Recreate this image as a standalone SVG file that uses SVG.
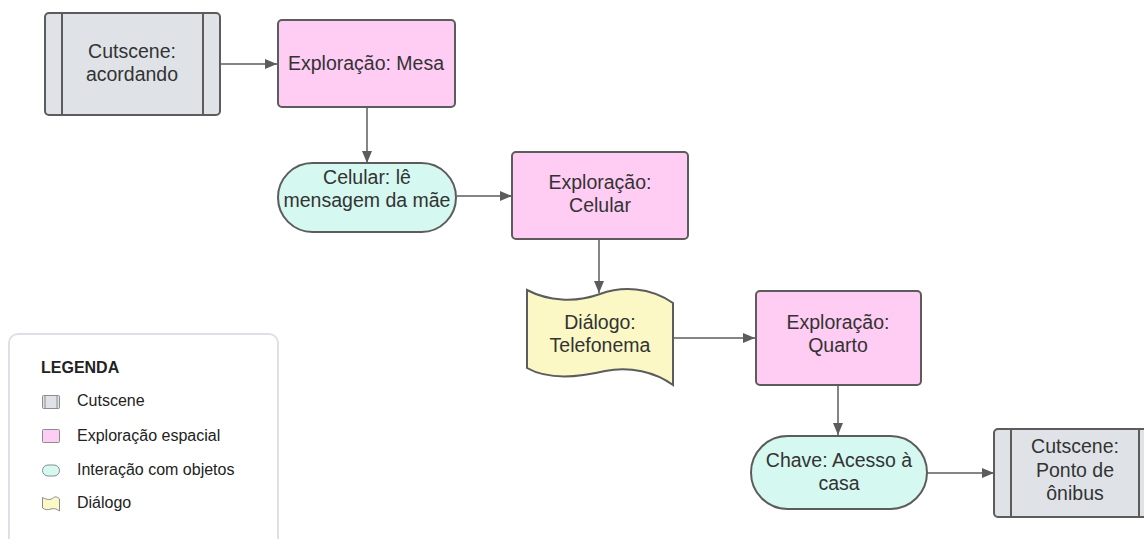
<svg xmlns="http://www.w3.org/2000/svg" width="1144" height="539" viewBox="0 0 1144 539">
<style>
.n{stroke:#5c5c5c;stroke-width:2}
.cut{fill:#dfe3e8}
.exp{fill:#ffccf3}
.int{fill:#d5f8f1}
.dia{fill:#fbf8c6}
.t{font-family:"Liberation Sans",Arial,sans-serif;font-size:19.5px;fill:#333333;text-anchor:middle}
.c{stroke:#5c5c5c;stroke-width:1.5;fill:none;marker-end:url(#ah)}
.lt{font-family:"Liberation Sans",Arial,sans-serif;font-size:16px;fill:#222222}
.li{stroke:#8c8c8c;stroke-width:1}
</style>
<defs>
<marker id="ah" markerWidth="12" markerHeight="10" refX="12" refY="5" orient="auto" markerUnits="userSpaceOnUse">
<path d="M0,0 L12,5 L0,10 Z" fill="#5c5c5c"/>
</marker>
</defs>
<rect width="1144" height="539" fill="#ffffff"/>

<g id="connectors">
<line class="c" x1="220" y1="64" x2="277" y2="64"/>
<line class="c" x1="367" y1="107" x2="367" y2="163"/>
<line class="c" x1="457" y1="196" x2="512" y2="196"/>
<line class="c" x1="599" y1="239" x2="599" y2="293"/>
<line class="c" x1="673" y1="338" x2="755" y2="338"/>
<line class="c" x1="838" y1="385" x2="838" y2="435"/>
<line class="c" x1="927" y1="473" x2="994" y2="473"/>
</g>

<g id="n1">
<rect class="n cut" x="45" y="13" width="175" height="102" rx="4"/>
<line class="n" x1="62" y1="13" x2="62" y2="115"/>
<line class="n" x1="203" y1="13" x2="203" y2="115"/>
<text class="t" x="132" y="58">Cutscene:</text>
<text class="t" x="132" y="81">acordando</text>
</g>

<g id="n2">
<rect class="n exp" x="278" y="20" width="177" height="87" rx="4"/>
<text class="t" x="366" y="70">Exploração: Mesa</text>
</g>

<g id="n3">
<rect class="n int" x="278" y="163" width="178" height="69" rx="34.5"/>
<text class="t" x="367" y="184">Celular: lê</text>
<text class="t" x="367" y="207">mensagem da mãe</text>
</g>

<g id="n4">
<rect class="n exp" x="512" y="152" width="176" height="87" rx="4"/>
<text class="t" x="600" y="189">Exploração:</text>
<text class="t" x="600" y="212">Celular</text>
</g>

<g id="n5">
<path class="n dia" d="M527,290 C548,301 575,303 600,294 C622,286 650,287 673,303 L673,385 C655,372 630,366 605,371 C580,377 550,381 527,368 Z"/>
<text class="t" x="600" y="329">Diálogo:</text>
<text class="t" x="600" y="352">Telefonema</text>
</g>

<g id="n6">
<rect class="n exp" x="756" y="291" width="165" height="94" rx="4"/>
<text class="t" x="838" y="329">Exploração:</text>
<text class="t" x="838" y="352">Quarto</text>
</g>

<g id="n7">
<rect class="n int" x="751" y="436" width="176" height="73" rx="36.5"/>
<text class="t" x="839" y="467">Chave: Acesso à</text>
<text class="t" x="839" y="490">casa</text>
</g>

<g id="n8">
<rect class="n cut" x="994" y="429" width="162" height="88" rx="4"/>
<line class="n" x1="1011" y1="429" x2="1011" y2="517"/>
<line class="n" x1="1139" y1="429" x2="1139" y2="517"/>
<text class="t" x="1075" y="453">Cutscene:</text>
<text class="t" x="1075" y="477">Ponto de</text>
<text class="t" x="1075" y="500">ônibus</text>
</g>

<g id="legend">
<rect x="9" y="334" width="269" height="220" rx="9" fill="#ffffff" stroke="#dde1e6" stroke-width="2"/>
<text class="lt" x="41" y="373" font-weight="bold">LEGENDA</text>
<rect class="li cut" x="42.5" y="395.5" width="17" height="13" rx="1"/>
<line class="li" x1="45" y1="395.5" x2="45" y2="408.5"/>
<line class="li" x1="57" y1="395.5" x2="57" y2="408.5"/>
<text class="lt" x="77" y="406">Cutscene</text>
<rect class="li exp" x="42.5" y="429.5" width="17" height="13" rx="1"/>
<text class="lt" x="77" y="441">Exploração espacial</text>
<rect class="li int" x="42.5" y="465" width="17" height="11" rx="5.5"/>
<text class="lt" x="77" y="475">Interação com objetos</text>
<path class="li dia" d="M42.5,497.5 C47,500 51,500 53,498 C55,496 58,497 59.5,499 L59.5,511 C57,509 54,508 51,509 C48,510 45,510 42.5,508 Z"/>
<text class="lt" x="77" y="508">Diálogo</text>
</g>
</svg>
